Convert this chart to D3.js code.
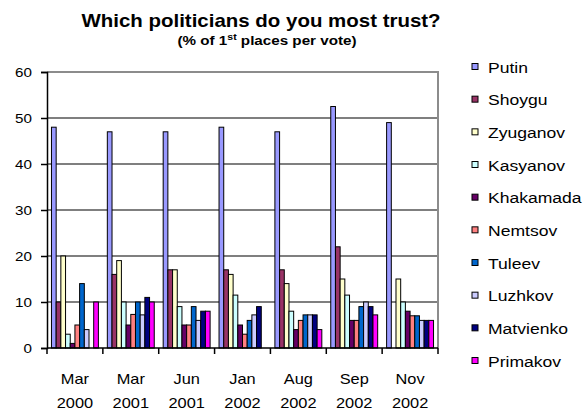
<!DOCTYPE html>
<html>
<head>
<meta charset="utf-8">
<script src="https://cdn.jsdelivr.net/npm/d3@7"></script>
<style>
  body { margin: 0; background: #fff; }
  svg { display: block; font-family: "Liberation Sans", Arial, sans-serif; }
</style>
</head>
<body>
<div id="chart"></div>
<script>
// survey dates, split in two label lines
const months = ["Mar", "Mar", "Jun", "Jan", "Aug", "Sep", "Nov"];
const years = ["2000", "2001", "2001", "2002", "2002", "2002", "2002"];

const politicians = ["Putin", "Shoygu", "Zyuganov", "Kasyanov", "Khakamada",
  "Nemtsov", "Tuleev", "Luzhkov", "Matvienko", "Primakov"];

// % of 1st places, one array per politician
const putin     = [48, 47, 47, 48, 47, 52.5, 49];
const shoygu    = [10, 16, 17, 17, 17, 22, 0];
const zyuganov  = [20, 19, 17, 16, 14, 15, 15];
const kasyanov  = [3, 10, 9, 11.5, 8, 11.5, 10];
const khakamada = [1, 5, 5, 5, 4, 6, 8];
const nemtsov   = [5, 7.3, 5, 3, 6, 6, 7];
const tuleev    = [14, 10, 9, 6, 7.2, 9, 7];
const luzhkov   = [4, 7.2, 6, 7.2, 7.2, 10, 6];
const matvienko = [0, 11, 8, 9, 7.2, 9, 6];
const primakov  = [10, 10, 8, 0, 4, 7.2, 6];

const yTicks = [0, 10, 20, 30, 40, 50, 60];

const seriesValues = [putin, shoygu, zyuganov, kasyanov, khakamada,
  nemtsov, tuleev, luzhkov, matvienko, primakov];
const palette = ["#9999FF", "#993366", "#FFFFCC", "#CCFFFF", "#660066",
  "#FF8080", "#0066CC", "#CCCCFF", "#000080", "#FF00FF"];

const W = 586, H = 411;
const plotL = 47, plotR = 438, plotT = 72, plotB = 348;
const SX = 1.17; // text in the original is a bit wider than tall

const svg = d3.select("#chart").append("svg")
  .attr("width", W).attr("height", H);

// text helper: places stretched text
function label(px, py, str, size, anchor, weight) {
  return svg.append("text")
    .attr("transform", "translate(" + px + "," + py + ") scale(" + SX + ",1)")
    .attr("text-anchor", anchor || "start")
    .style("font-size", size + "px")
    .style("font-weight", weight || "normal")
    .text(str);
}

const cats = months.map((m, i) => m + " " + years[i]);

const x = d3.scaleBand()
  .domain(cats)
  .range([plotL, plotR])
  .paddingInner(0.16)
  .paddingOuter(0.08);

const xs = d3.scaleBand()
  .domain(politicians)
  .range([0, x.bandwidth()]);

const y = d3.scaleLinear().domain([0, 60]).range([plotB, plotT]);

// gridlines
svg.append("g")
  .selectAll("line")
  .data(yTicks.filter(t => t > 0 && t < 60))
  .enter().append("line")
  .attr("x1", plotL).attr("x2", plotR)
  .attr("y1", d => y(d)).attr("y2", d => y(d))
  .attr("stroke", "#000").attr("stroke-width", 1.2);

// plot border (grey top / right)
svg.append("path")
  .attr("d", "M" + plotL + "," + y(60) + "H" + plotR + "V" + plotB)
  .attr("fill", "none").attr("stroke", "#8c8c8c").attr("stroke-width", 2);

// bars
const groups = svg.append("g").selectAll("g")
  .data(cats)
  .enter().append("g")
  .attr("transform", d => "translate(" + x(d) + ",0)");

groups.selectAll("rect")
  .data((c, i) => politicians.map((p, j) => ({ p: p, v: seriesValues[j][i], col: palette[j] })).filter(d => d.v > 0))
  .enter().append("rect")
  .attr("x", d => xs(d.p))
  .attr("width", xs.bandwidth())
  .attr("y", d => y(d.v))
  .attr("height", d => y(0) - y(d.v))
  .attr("fill", d => d.col)
  .attr("stroke", "#000")
  .attr("stroke-width", 1);

// y axis
const yAxis = svg.append("g")
  .attr("transform", "translate(" + plotL + ",0)")
  .call(d3.axisLeft(y).tickValues(yTicks).tickSize(6).tickFormat(""));
yAxis.select(".domain").attr("stroke", "#000").attr("stroke-width", 1.5);
yAxis.selectAll(".tick line").attr("stroke", "#000").attr("stroke-width", 1.5);
yTicks.forEach(t => label(32, y(t) + 5, String(t), 13, "end"));

// x axis with ticks on category boundaries
svg.append("line")
  .attr("x1", plotL).attr("x2", plotR)
  .attr("y1", plotB).attr("y2", plotB)
  .attr("stroke", "#000").attr("stroke-width", 1.5);
const step = x.step();
const bounds = d3.range(cats.length + 1).map(i => x(cats[0]) - x.paddingOuter() * step + i * step);
svg.append("g").selectAll("line")
  .data(bounds)
  .enter().append("line")
  .attr("x1", d => d).attr("x2", d => d)
  .attr("y1", plotB).attr("y2", plotB + 6)
  .attr("stroke", "#000").attr("stroke-width", 1.5);

cats.forEach((c, i) => {
  const cx = x(c) + x.bandwidth() / 2;
  label(cx, 384, months[i], 14, "middle");
  label(cx, 408, years[i], 14, "middle");
});

// titles
label(261, 27, "Which politicians do you most trust?", 17.5, "middle", "bold");
const sub = label(267, 45, "(% of 1", 13, "middle", "bold");
sub.append("tspan").attr("dy", -5).style("font-size", "9px").text("st");
sub.append("tspan").attr("dy", 5).text("  places per vote)");

// legend
const legY = d3.scalePoint().domain(politicians).range([67, 361]);
politicians.forEach((p, j) => {
  svg.append("rect")
    .attr("x", 472).attr("y", legY(p) - 3.5)
    .attr("width", 6).attr("height", 6)
    .attr("fill", palette[j])
    .attr("stroke", "#000").attr("stroke-width", 1);
  label(488, legY(p) + 5.5, p, 15, "start");
});
</script>
</body>
</html>
